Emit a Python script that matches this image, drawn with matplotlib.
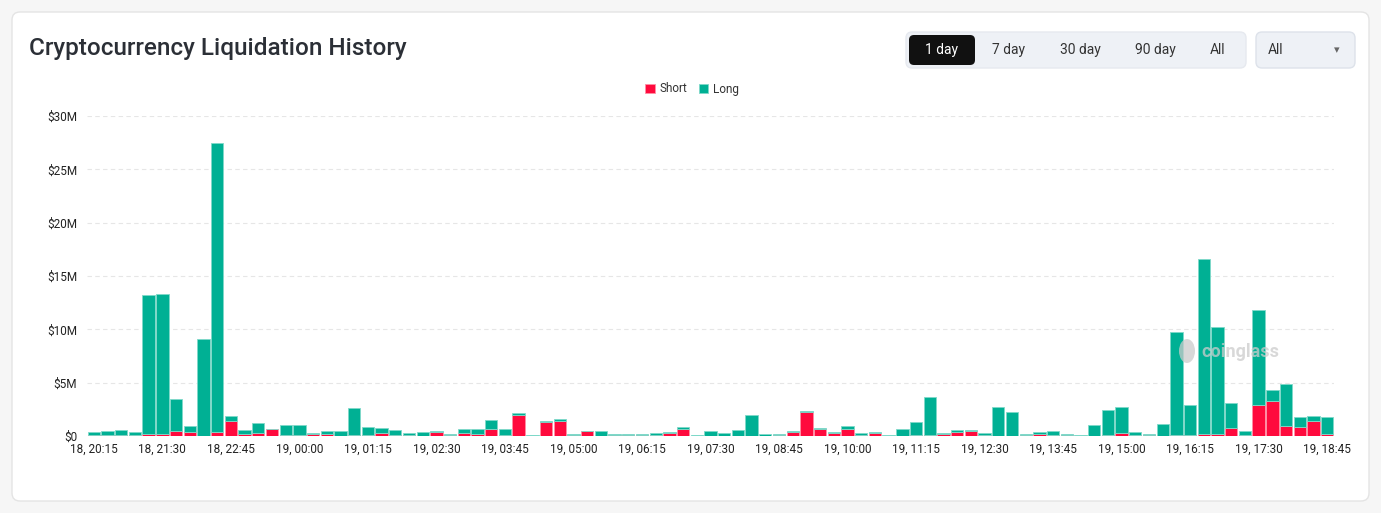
import matplotlib
matplotlib.use("Agg")
import matplotlib.pyplot as plt
from matplotlib.patches import FancyBboxPatch, Ellipse
from matplotlib.ticker import FuncFormatter, MultipleLocator

plt.rcParams['font.family'] = ['Roboto', 'DejaVu Sans']

# 15-minute buckets, 18, 20:15 -> 19, 18:45 (values in $M)
short_vals = [
    0.05, 0.12, 0.05, 0.10, 0.15, 0.15, 0.50, 0.38, 0.03, 0.38,
    1.37, 0.15, 0.25, 0.62, 0.06, 0.10, 0.19, 0.16, 0.03, 0.10,
    0.05, 0.25, 0.10, 0.10, 0.03, 0.34, 0.05, 0.28, 0.16, 0.69,
    0.10, 1.94, 0.03, 1.34, 1.44, 0.12, 0.44, 0.02, 0.05, 0.06,
    0.12, 0.10, 0.25, 0.62, 0.02, 0.03, 0.03, 0.03, 0.03, 0.03,
    0.05, 0.34, 2.28, 0.66, 0.25, 0.62, 0.12, 0.25, 0.03, 0.03,
    0.05, 0.12, 0.16, 0.34, 0.44, 0.10, 0.03, 0.03, 0.12, 0.16,
    0.05, 0.06, 0.02, 0.03, 0.05, 0.25, 0.12, 0.05, 0.03, 0.05,
    0.10, 0.16, 0.16, 0.78, 0.10, 2.88, 3.25, 0.92, 0.86, 1.44,
    0.19,
]
total_vals = [
    0.35, 0.45, 0.53, 0.38, 13.2, 13.3, 3.44, 0.90, 9.10, 27.5,
    1.84, 0.56, 1.22, 0.69, 1.00, 1.00, 0.31, 0.50, 0.44, 2.62,
    0.84, 0.75, 0.60, 0.28, 0.40, 0.50, 0.16, 0.69, 0.62, 1.53,
    0.62, 2.12, 0.10, 1.44, 1.60, 0.19, 0.50, 0.47, 0.16, 0.19,
    0.22, 0.25, 0.37, 0.84, 0.06, 0.47, 0.25, 0.53, 1.97, 0.16,
    0.16, 0.44, 2.34, 0.75, 0.37, 0.94, 0.28, 0.37, 0.12, 0.69,
    1.28, 3.63, 0.31, 0.56, 0.56, 0.25, 2.72, 2.25, 0.22, 0.40,
    0.50, 0.19, 0.06, 1.00, 2.40, 2.72, 0.34, 0.16, 1.12, 9.78,
    2.86, 16.6, 10.2, 3.06, 0.45, 11.85, 4.28, 4.88, 1.74, 1.88,
    1.81,
]
long_vals = [t - s for t, s in zip(total_vals, short_vals)]

tick_labels = ['18, 20:15', '18, 21:30', '18, 22:45', '19, 00:00', '19, 01:15',
               '19, 02:30', '19, 03:45', '19, 05:00', '19, 06:15', '19, 07:30',
               '19, 08:45', '19, 10:00', '19, 11:15', '19, 12:30', '19, 13:45',
               '19, 15:00', '19, 16:15', '19, 17:30', '19, 18:45']

RED = '#FF0A3D'
TEAL = '#00B094'

W, H = 1381, 513
fig = plt.figure(figsize=(W / 100, H / 100), dpi=100)
fig.patch.set_facecolor('#f6f6f6')

# background layer in pixel coords
bg = fig.add_axes([0, 0, 1, 1], zorder=0)
bg.set_xlim(0, W)
bg.set_ylim(H, 0)
bg.axis('off')
bg.add_patch(FancyBboxPatch((12, 12), W - 24, H - 24, boxstyle='round,pad=0,rounding_size=8',
                            facecolor='white', edgecolor='#e4e4e4', linewidth=1))
bg.text(29, 48, 'Cryptocurrency Liquidation History', fontsize=17.5, fontweight='medium',
        color='#2b2f36', va='center', ha='left')

# range buttons
bg.add_patch(FancyBboxPatch((906, 32), 340, 36, boxstyle='round,pad=0,rounding_size=6',
                            facecolor='#eef1f6', edgecolor='#e6e9ef', linewidth=1))
bg.add_patch(FancyBboxPatch((909, 35), 66, 30, boxstyle='round,pad=0,rounding_size=5',
                            facecolor='#111111', edgecolor='none'))
for label, cx in [('1 day', 942), ('7 day', 1009), ('30 day', 1080), ('90 day', 1155), ('All', 1218)]:
    bg.text(cx, 50, label, fontsize=10, color='white' if label == '1 day' else '#333333',
            ha='center', va='center')
bg.add_patch(FancyBboxPatch((1256, 32), 99, 36, boxstyle='round,pad=0,rounding_size=6',
                            facecolor='#eef1f6', edgecolor='#dde2ea', linewidth=1))
bg.text(1268, 50, 'All', fontsize=10, color='#333333', ha='left', va='center')
bg.text(1337, 50, '\u25BE', fontsize=8, color='#666666', ha='center', va='center',
        family=['DejaVu Sans'])

# main chart
ax = fig.add_axes([87 / W, 1 - 436 / H, (1334 - 87) / W, (436 - 116) / H], zorder=1)
ax.patch.set_alpha(0)
x = list(range(len(total_vals)))
b1 = ax.bar(x, short_vals, width=0.9, color=RED, edgecolor='#ff8fa5', linewidth=0.6,
            label='Short', zorder=3)
b2 = ax.bar(x, long_vals, bottom=short_vals, width=0.9, color=TEAL, edgecolor='#7fd9c9',
            linewidth=0.6, label='Long', zorder=3)

ax.set_xlim(-0.5, len(total_vals) - 0.5)
ax.set_ylim(0, 30)
ax.yaxis.set_major_locator(MultipleLocator(5))
ax.yaxis.set_major_formatter(FuncFormatter(lambda v, p: '$0' if v == 0 else f'${v:.0f}M'))
ax.set_xticks(x[::5])
ax.set_xticklabels(tick_labels)
ax.tick_params(axis='both', length=0, labelsize=8.5, colors='#222222')
ax.tick_params(axis='y', pad=7)
ax.tick_params(axis='x', pad=5)
ax.grid(axis='y', linestyle=(0, (4, 3)), color='#e6e6e6', linewidth=0.8, zorder=0)
for s in ax.spines.values():
    s.set_visible(False)

fig.legend(handles=[b1, b2], labels=['Short', 'Long'], loc='center',
           bbox_to_anchor=(692 / W, 1 - 89 / H), ncol=2, frameon=False,
           fontsize=8.5, handlelength=0.8, handleheight=0.8, handletextpad=0.4,
           columnspacing=1.0, labelcolor='#333333')

# watermark on top of the bars
top = fig.add_axes([0, 0, 1, 1], zorder=5)
top.set_xlim(0, W)
top.set_ylim(H, 0)
top.axis('off')
top.add_patch(Ellipse((1187, 351), 16, 24, facecolor='#cccccc', edgecolor='none', alpha=0.75))
top.text(1201, 352, 'coinglass', fontsize=13, fontweight='bold', color='#cccccc',
         alpha=0.75, ha='left', va='center')

fig.savefig('out.png', dpi=100, facecolor=fig.get_facecolor())
